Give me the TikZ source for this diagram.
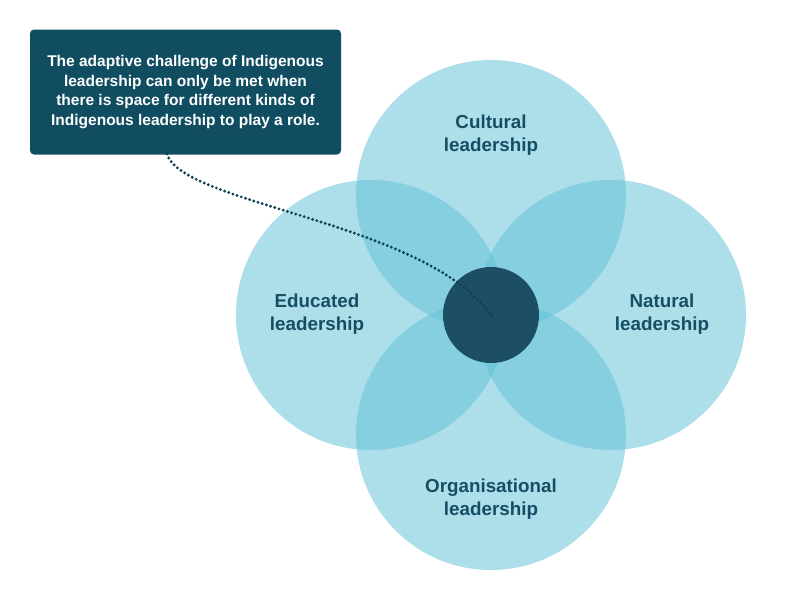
\documentclass[tikz,border=0pt]{standalone}
\usepackage{fontspec}
\setmainfont{Liberation Sans}
\begin{document}
\begin{tikzpicture}[x=1pt,y=-1pt,
  petal/.style={circle, minimum size=270pt, inner sep=0pt, fill=petalblue, fill opacity=0.52, draw=none},
  hub/.style={circle, minimum size=96pt, inner sep=0pt, fill=hubblue, draw=none},
  lbl/.style={font=\bfseries\fontsize{18.8}{23}\selectfont, text=labelblue, align=center},
  callout/.style={rectangle, rounded corners=4pt, fill=boxblue, text=white, align=center,
    minimum width=311pt, minimum height=125pt, inner sep=0pt,
    font=\bfseries\fontsize{15.5}{19.7}\selectfont},
  dotline/.style={draw=dotblue, line width=3.2pt, line cap=round, dash pattern=on 0pt off 4.4pt}
]
\definecolor{petalblue}{RGB}{98,194,215}
\definecolor{hubblue}{RGB}{28,79,99}
\definecolor{dotblue}{RGB}{14,66,86}
\definecolor{labelblue}{RGB}{21,79,100}
\definecolor{boxblue}{RGB}{16,77,97}
\useasboundingbox (0,0) rectangle (794,598);
\fill[white] (0,0) rectangle (794,598);
% petals
\node[petal] (top) at (491,195) {};
\node[petal] (left) at (371,315) {};
\node[petal] (right) at (611,315) {};
\node[petal] (bottom) at (491,435) {};
% hub
\node[hub] (hubc) at (491,315) {};
% labels
\node[lbl] (ltop) at (491,135.5) {Cultural\\leadership};
\node[lbl] (lleft) at (317,314.5) {Educated\\leadership};
\node[lbl] (lright) at (662,314.5) {Natural\\leadership};
\node[lbl] (lbottom) at (491,499) {Organisational\\leadership};
% callout
\node[callout] (box) at (185.5,92) {The adaptive challenge of Indigenous\\leadership can only be met when\\there is space for different kinds of\\Indigenous leadership to play a role.};
\coordinate (start) at (167,154);
\coordinate (finish) at (493,318);
\draw[dotline] (start) .. controls (182,205) and (430,222) .. (finish);
\end{tikzpicture}
\end{document}
